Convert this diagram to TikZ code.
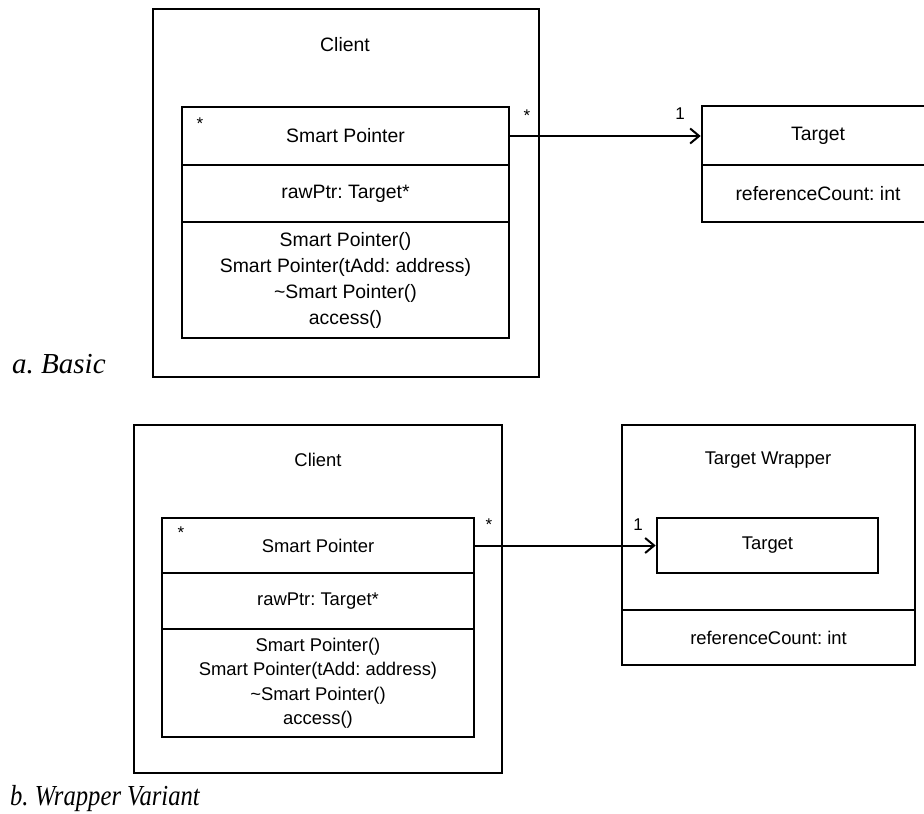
\documentclass[tikz,border=0pt]{standalone}
\usepackage{fontspec}
\setmainfont{Liberation Sans}
\newfontfamily\capfont{Liberation Serif}
\usetikzlibrary{arrows.meta}
\tikzset{
  box/.style={draw, line width=2.6pt, inner sep=0pt},
  lbl/.style={inner sep=0pt, font=\frenchspacing\fontsize{19.4}{26}\selectfont, align=center},
  lblb/.style={inner sep=0pt, font=\frenchspacing\fontsize{18.4}{24.5}\selectfont, align=center},
  mult/.style={inner sep=0pt, font=\fontsize{17}{20}\selectfont},
  captxt/.style={inner sep=0pt, anchor=base west, font=\frenchspacing\capfont\itshape\fontsize{29}{30}\selectfont},
  arr/.style={line width=2pt, -{Straight Barb[length=9pt,width=15pt,line width=2pt]}}
}
\begin{document}
\begin{tikzpicture}[x=1pt,y=-1pt]
\clip (0,0) rectangle (924,814);
\fill[white] (0,0) rectangle (924,814);
% ---- a. Basic ----
\node[box, minimum width=386pt, minimum height=368pt] (client1) at (346,193) {};
\node[lbl] (client1l) at (345,45) {Client};
\node[box, lbl, minimum width=327pt, minimum height=58pt] (sp1t) at (345.5,136) {Smart Pointer};
\node[box, lbl, minimum width=327pt, minimum height=57pt] (sp1a) at (345.5,193.5) {rawPtr: Target*};
\node[box, lbl, minimum width=327pt, minimum height=116pt] (sp1m) at (345.5,280) {Smart Pointer()\\Smart Pointer(tAdd: address)\\\textasciitilde Smart Pointer()\\access()};
\node[box, lbl, minimum width=232pt, minimum height=59pt] (t1t) at (818,135.5) {Target};
\node[box, lbl, minimum width=232pt, minimum height=57pt] (t1a) at (818,193.5) {referenceCount: int};
\draw[arr] (sp1t.east) -- (sp1t.east -| t1t.west);
\node[mult] (m1a) at (200,124) {*};
\node[mult] (m1b) at (527,116) {*};
\node[mult] (m1c) at (680,114) {1};
\node[captxt] (capa) at (12,373) {a. Basic};
% ---- b. Wrapper Variant ----
\node[box, minimum width=368pt, minimum height=348pt] (client2) at (318,599) {};
\node[lblb] (client2l) at (318,460) {Client};
\node[box, lblb, minimum width=312pt, minimum height=55pt] (sp2t) at (318,545.5) {Smart Pointer};
\node[box, lblb, minimum width=312pt, minimum height=56pt] (sp2a) at (318,601) {rawPtr: Target*};
\node[box, lblb, minimum width=312pt, minimum height=108pt] (sp2m) at (318,683) {Smart Pointer()\\Smart Pointer(tAdd: address)\\\textasciitilde Smart Pointer()\\access()};
\node[box, minimum width=293pt, minimum height=185pt] (tw) at (768.5,517.5) {};
\node[lblb] (twl) at (768,460) {Target Wrapper};
\node[box, lblb, minimum width=293pt, minimum height=55pt] (twa) at (768.5,637.5) {referenceCount: int};
\node[box, lblb, minimum width=221pt, minimum height=55pt] (t2) at (767.5,545.5) {Target};
\draw[arr] (sp2t.east) -- (sp2t.east -| t2.west);
\node[mult] (m2a) at (181,533) {*};
\node[mult] (m2b) at (489,525) {*};
\node[mult] (m2c) at (638,525) {1};
\node[captxt, xscale=0.85] (capb) at (10,805) {b. Wrapper Variant};
\end{tikzpicture}
\end{document}
